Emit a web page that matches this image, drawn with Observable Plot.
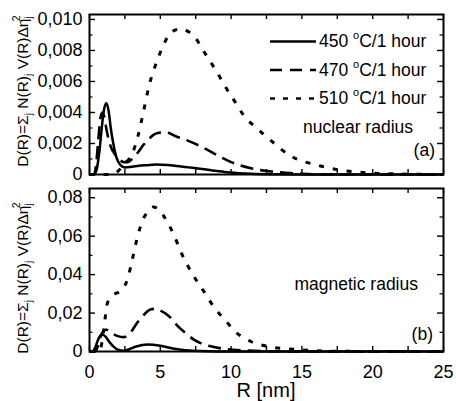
<!DOCTYPE html>
<html><head><meta charset="utf-8">
<script src="https://cdn.jsdelivr.net/npm/d3@7"></script>
<script src="https://cdn.jsdelivr.net/npm/@observablehq/plot@0.6"></script>
<style>
body{margin:0;background:#fff;}
#chart{position:relative;width:456px;height:401px;font-family:"Liberation Sans",Arial,sans-serif;}
#chart svg{position:absolute;left:0;overflow:visible;}
</style></head><body><div id="chart"></div>
<script>
// ---------- data ----------
const seriesNames = ["450 °C/1 hour", "470 °C/1 hour", "510 °C/1 hour"];

// panel (a): nuclear radius
const aR450 = [0, 0.3, 0.5, 0.7, 0.9, 1.05, 1.2, 1.35, 1.5, 1.7, 1.9, 2.2, 2.5, 3, 3.5, 4, 4.7, 5.5, 6.2, 7, 7.8, 8.7, 9.7, 11, 12.5, 15, 25];
const aV450 = [0, 0, 0.0003, 0.0015, 0.0033, 0.0043, 0.0046, 0.0041, 0.0030, 0.0019, 0.0011, 0.0006, 0.00045, 0.0005, 0.00056, 0.0006, 0.00065, 0.00062, 0.00055, 0.00046, 0.00037, 0.00026, 0.00015, 0.00007, 0.00002, 0, 0];
const aR470 = [0, 0.3, 0.45, 0.6, 0.75, 0.9, 1.05, 1.2, 1.5, 1.8, 2.1, 2.4, 2.7, 3.0, 3.4, 3.8, 4.2, 4.6, 5.0, 5.5, 6.0, 6.9, 8.1, 9.3, 10.0, 11.4, 13.3, 15, 17, 25];
const aV470 = [0, 0, 0.0005, 0.0020, 0.0035, 0.0040, 0.0037, 0.0029, 0.0018, 0.0013, 0.0010, 0.0008, 0.0008, 0.0010, 0.0014, 0.0019, 0.0023, 0.0026, 0.0027, 0.0027, 0.0025, 0.0022, 0.0017, 0.0011, 0.0008, 0.0004, 0.00015, 0.00005, 0, 0];
const aR510 = [0, 1.5, 2.0, 2.3, 2.6, 3.0, 3.4, 3.8, 4.2, 4.8, 5.2, 5.6, 6.0, 6.5, 7.0, 7.4, 8.1, 9.0, 9.7, 10.2, 10.9, 11.8, 12.8, 14.2, 16.1, 17.9, 19.8, 22, 25];
const aV510 = [0, 0, 0.0002, 0.0005, 0.0008, 0.0013, 0.0024, 0.0040, 0.0057, 0.0074, 0.0083, 0.0090, 0.0093, 0.0094, 0.0092, 0.0089, 0.0079, 0.0066, 0.0055, 0.0048, 0.0038, 0.0030, 0.0022, 0.0012, 0.0006, 0.00026, 0.0001, 0.00003, 0];

// panel (b): magnetic radius
const bR450 = [0, 0.2, 0.4, 0.6, 0.85, 1.1, 1.4, 1.7, 2.0, 2.4, 2.8, 3.3, 4.1, 5.0, 5.9, 6.8, 7.8, 9, 25];
const bV450 = [0, 0, 0.002, 0.006, 0.0088, 0.008, 0.005, 0.0025, 0.001, 0.0004, 0.0012, 0.0026, 0.0036, 0.003, 0.0016, 0.0007, 0.0002, 0, 0];
const bR470 = [0, 0.4, 0.6, 0.8, 1.0, 1.2, 1.4, 1.7, 2.0, 2.4, 2.8, 3.4, 3.9, 4.3, 4.7, 5.0, 5.6, 6.2, 6.8, 7.4, 7.8, 8.5, 9.7, 11, 13, 25];
const bV470 = [0, 0, 0.003, 0.008, 0.0108, 0.0113, 0.0105, 0.009, 0.008, 0.0075, 0.009, 0.0153, 0.0195, 0.0219, 0.0222, 0.0213, 0.0185, 0.0135, 0.0095, 0.0060, 0.0045, 0.0028, 0.0012, 0.0005, 0.0001, 0];
const bR510 = [0, 0.6, 0.8, 1.0, 1.25, 1.5, 1.8, 2.1, 2.4, 2.7, 3.0, 3.4, 3.8, 4.1, 4.5, 4.8, 5.2, 5.6, 6.0, 6.5, 7.3, 8.1, 8.8, 9.7, 10.2, 11.4, 12.8, 14.9, 17, 20, 25];
const bV510 = [0, 0, 0.002, 0.011, 0.0248, 0.028, 0.030, 0.031, 0.033, 0.038, 0.047, 0.060, 0.069, 0.0725, 0.0752, 0.0745, 0.071, 0.066, 0.060, 0.051, 0.040, 0.031, 0.023, 0.0153, 0.011, 0.0052, 0.0024, 0.0009, 0.0002, 0.00003, 0];

// ticks
const xMajor = [0, 5, 10, 15, 20, 25];
const xAll = [0, 2.5, 5, 7.5, 10, 12.5, 15, 17.5, 20, 22.5, 25];
const aYMajor = [0, 0.002, 0.004, 0.006, 0.008, 0.010];
const aYMinor = [0.001, 0.003, 0.005, 0.007, 0.009];
const bYMajor = [0, 0.02, 0.04, 0.06, 0.08];
const bYMinor = [0.01, 0.03, 0.05, 0.07];

// ---------- drawing ----------
const W = 456, ML = 89, MR = 13;
const dashes = [null, "13,7", "5,9"];
const widths = [2.5, 2.6, 3];
const font = '"Liberation Sans", Arial, sans-serif';

function rows(R, V) { return R.map((r, i) => ({R: r, v: V[i]})); }

function panel({height, mt, mb, yMax, yMajor, yMinor, yFmt, series, showX}) {
  const fw = W - ML - MR, fh = height - mt - mb;
  const marks = [];
  series.forEach((s, i) => {
    marks.push(Plot.line(s, {x: "R", y: "v", curve: "monotone-x", stroke: "black",
      strokeWidth: widths[i], strokeDasharray: dashes[i], strokeLinecap: "butt"}));
  });
  marks.push(
    Plot.tickX(xAll, {x: d => d, insetBottom: fh - 5, strokeWidth: 1.4}),
    Plot.tickX(xAll, {x: d => d, insetTop: fh - 5, strokeWidth: 1.4}),
    Plot.tickY(yMajor, {y: d => d, insetRight: fw - 6, strokeWidth: 1.4}),
    Plot.tickY(yMajor, {y: d => d, insetLeft: fw - 6, strokeWidth: 1.4}),
    Plot.tickY(yMinor, {y: d => d, insetRight: fw - 3.5, strokeWidth: 1.2}),
    Plot.tickY(yMinor, {y: d => d, insetLeft: fw - 3.5, strokeWidth: 1.2}),
    Plot.axisY(yMajor, {tickSize: 0, tickPadding: 7, tickFormat: yFmt, fontSize: 18, label: null}),
    Plot.frame({strokeWidth: 2})
  );
  if (showX) marks.push(Plot.axisX(xMajor, {tickSize: 0, tickPadding: 14, fontSize: 18, label: null}));
  return Plot.plot({
    width: W, height, marginLeft: ML, marginRight: MR, marginTop: mt, marginBottom: mb,
    x: {domain: [0, 25], axis: null},
    y: {domain: [0, yMax], axis: null},
    style: {fontFamily: font, color: "black", background: "transparent", overflow: "visible"},
    marks
  });
}

const fmt = digits => d => d === 0 ? "0" : d.toFixed(digits).replace(".", ",");

const svgA = panel({height: 180, mt: 14, mb: 6, yMax: 0.01032, yMajor: aYMajor, yMinor: aYMinor,
  yFmt: fmt(3), series: [rows(aR450, aV450), rows(aR470, aV470), rows(aR510, aV510)], showX: false});
const svgB = panel({height: 221, mt: 8, mb: 50, yMax: 0.0848, yMajor: bYMajor, yMinor: bYMinor,
  yFmt: fmt(2), series: [rows(bR450, bV450), rows(bR470, bV470), rows(bR510, bV510)], showX: true});
svgA.style.top = "0px";
svgB.style.top = "180px";
const chart = document.getElementById("chart");
chart.appendChild(svgA);
chart.appendChild(svgB);

function yLabel(svg, cy) {
  const t = d3.select(svg).append("text")
    .attr("transform", `translate(28,${cy}) rotate(-90)`)
    .attr("text-anchor", "middle").attr("font-family", font).attr("font-size", 15.5).attr("fill", "black");
  const parts = [["D(R)=Σ", 0, 15.5], ["j", 4, 10.5], [" N(R)", -4, 15.5], ["j", 4, 10.5], [" V(R)Δη", -4, 15.5], ["j", 4, 10.5], ["2", -12, 10.5, -5]];
  parts.forEach(([s, dy, fs, dx]) => {
    const ts = t.append("tspan").attr("dy", dy).attr("font-size", fs).text(s);
    if (dx) ts.attr("dx", dx);
  });
}
yLabel(svgA, 91);
yLabel(svgB, 98);

// legend + annotations in panel (a)
const gA = d3.select(svgA).append("g").attr("font-family", font).attr("font-size", 17.5)
  .attr("fill", "black").attr("text-anchor", "start");
const legY = [41.5, 70, 98.5];
const legDash = [null, "12,8", "5,8"];
seriesNames.forEach((name, i) => {
  gA.append("line").attr("x1", 270).attr("x2", 316).attr("y1", legY[i]).attr("y2", legY[i])
    .attr("stroke", "black").attr("stroke-width", 2.7).attr("stroke-dasharray", legDash[i]);
  const [num, rest] = name.split(" °");
  const t = gA.append("text").attr("x", 319).attr("y", legY[i] + 5.5).attr("text-anchor", "start");
  t.append("tspan").text(num + " ");
  t.append("tspan").attr("font-size", 11).attr("dy", -8).text("o");
  t.append("tspan").attr("dy", 8).text(rest);
});
gA.append("text").attr("x", 413).attr("y", 133).attr("text-anchor", "end").text("nuclear radius");
gA.append("text").attr("x", 435).attr("y", 156).attr("text-anchor", "end").text("(a)");

const gB = d3.select(svgB).append("g").attr("font-family", font).attr("font-size", 17.5).attr("fill", "black");
gB.append("text").attr("x", 418).attr("y", 290 - 180).attr("text-anchor", "end").text("magnetic radius");
gB.append("text").attr("x", 433).attr("y", 340 - 180).attr("text-anchor", "end").text("(b)");
gB.append("text").attr("x", 266).attr("y", 397 - 180).attr("text-anchor", "middle").attr("font-size", 20).text("R [nm]");
</script></body></html>
